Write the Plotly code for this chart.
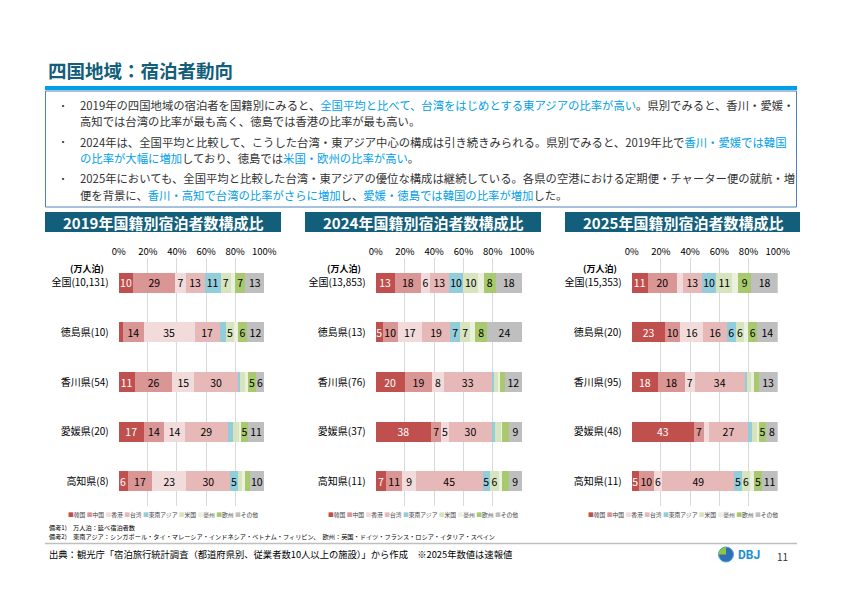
"""
Shikoku region: composition of foreign guest nights by nationality (2019 / 2024 / 2025).
"""
import plotly.graph_objects as go
from plotly.subplots import make_subplots

W, H = 842, 596
FONT = "Noto Sans CJK JP"

# --- data -------------------------------------------------------------------
categories = ["韓国", "中国", "香港", "台湾", "東南アジア", "米国", "豪州", "欧州", "その他"]
colors = ["#C0504D", "#D99694", "#F2DCDB", "#E6B9B8", "#92CDDC",
          "#D7E4BD", "#EBF1DE", "#A9C96E", "#BFBFBF"]

panel_titles = ["2019年国籍別宿泊者数構成比", "2024年国籍別宿泊者数構成比", "2025年国籍別宿泊者数構成比"]

regions_2019 = ["全国(10,131)", "徳島県(10)", "香川県(54)", "愛媛県(20)", "高知県(8)"]
regions_2024 = ["全国(13,853)", "徳島県(13)", "香川県(76)", "愛媛県(37)", "高知県(11)"]
regions_2025 = ["全国(15,353)", "徳島県(20)", "香川県(95)", "愛媛県(48)", "高知県(11)"]

# shares (%) per region, in the order of `categories`
share_2019 = [
    [10, 29, 7, 13, 11, 7, 3, 7, 13],
    [3, 14, 35, 17, 4.6, 5, 3, 6, 12],
    [11, 26, 15, 30, 1.4, 3.6, 2.2, 5, 6],
    [17, 14, 14, 29, 3.4, 4.3, 1.2, 5, 11],
    [6, 17, 23, 30, 5, 2.7, 2, 3.4, 10],
]
share_2024 = [
    [13, 18, 6, 13, 10, 10, 4, 8, 18],
    [5, 10, 17, 19, 7, 7, 3.4, 8, 24],
    [20, 19, 8, 33, 1.4, 2.7, 1.4, 3.4, 12],
    [38, 7, 5, 30, 2, 4, 0.7, 4.6, 9],
    [7, 11, 9, 45, 5, 6, 2, 4.5, 9],
]
share_2025 = [
    [11, 20, 4, 13, 10, 11, 4, 9, 18],
    [23, 10, 16, 16, 6, 6, 2.7, 6, 14],
    [18, 18, 7, 34, 1.4, 2.7, 2, 3.4, 13],
    [43, 7, 3.4, 27, 2.7, 3.4, 1.4, 5, 8],
    [5, 10, 6, 49, 5, 6, 2.7, 5, 11],
]

BLUE = "#00A0E9"
TEAL = "#135E7A"


def px(x):
    return x / W


def py(y):
    return 1 - y / H


def hl(s):
    return f"<span style='color:{BLUE}'>{s}</span>"


def note(x, y, text, size, color="#000000", anchor="left", bold=False, family=None):
    font = dict(size=size, color=color)
    if family:
        font["family"] = family
    return dict(xref="paper", yref="paper", x=px(x), y=py(y), text=f"<b>{text}</b>" if bold else text,
                showarrow=False, xanchor=anchor, yanchor="middle", font=font)


fig = make_subplots(rows=1, cols=3)

panels = [(regions_2019, share_2019), (regions_2024, share_2024), (regions_2025, share_2025)]
plot_x = [(118.7, 264.3), (375.7, 522.0), (631.7, 777.7)]
head_x = [(45, 281), (305, 541), (565, 800)]

for col, (regions, shares) in enumerate(panels, start=1):
    for i, cat in enumerate(categories):
        vals = [row[i] for row in shares]
        fig.add_trace(
            go.Bar(
                y=regions, x=vals, orientation="h", name=cat,
                marker=dict(color=colors[i], line=dict(width=0)),
                text=[f"{v:.0f}" if v >= 5 else "" for v in vals],
                textposition="inside", insidetextanchor="middle", textangle=0,
                textfont=dict(size=10.5, color="white" if i == 0 else "black", family=FONT),
                showlegend=False, hoverinfo="skip",
            ),
            row=1, col=col,
        )

fig.update_layout(
    width=W, height=H, autosize=False,
    margin=dict(l=0, r=0, t=0, b=0, pad=0, autoexpand=False),
    paper_bgcolor="white", plot_bgcolor="white",
    barmode="stack", barnorm="percent", bargap=0.6,
    uniformtext=dict(minsize=10.5, mode="show"),
    font=dict(family=FONT, color="#000000"),
)

for k in range(3):
    sx = "" if k == 0 else str(k + 1)
    x0, x1 = plot_x[k]
    fig.update_layout(**{
        f"xaxis{sx}": dict(
            domain=[px(x0), px(x1)], range=[0, 100], side="top", dtick=20,
            ticksuffix="%", showgrid=True, gridcolor="#D9D9D9", gridwidth=1,
            zeroline=False, showline=False, ticks="", tickfont=dict(size=9.5),
            fixedrange=True, automargin=False,
        ),
        f"yaxis{sx}": dict(
            domain=[py(506), py(258)], autorange="reversed", showgrid=False,
            ticks="", tickfont=dict(size=10), ticklabelstandoff=9, fixedrange=True,
            automargin=False,
        ),
    })

shapes = []
ann = []

# page title + rule
ann.append(note(46, 70, "四国地域：宿泊者動向", 18.5, TEAL, bold=True))
shapes.append(dict(type="rect", xref="paper", yref="paper", x0=px(45), x1=px(797),
                   y0=py(90), y1=py(86), fillcolor=BLUE, line=dict(width=0)))
shapes.append(dict(type="rect", xref="paper", yref="paper", x0=px(45.5), x1=px(796.5),
                   y0=py(207), y1=py(91), line=dict(color="#4F81BD", width=1)))

# summary text
lines = [
    (105, True, "2019年の四国地域の宿泊者を国籍別にみると、"
     + hl("全国平均と比べて、台湾をはじめとする東アジアの比率が高い") + "。県別でみると、香川・愛媛・"),
    (121, False, "高知では台湾の比率が最も高く、徳島では香港の比率が最も高い。"),
    (141.5, True, "2024年は、全国平均と比較して、こうした台湾・東アジア中心の構成は引き続きみられる。県別でみると、2019年比で"
     + hl("香川・愛媛では韓国")),
    (157.5, False, hl("の比率が大幅に増加") + "しており、徳島では" + hl("米国・欧州の比率が高い") + "。"),
    (178.5, True, "2025年においても、全国平均と比較した台湾・東アジアの優位な構成は継続している。各県の空港における定期便・チャーター便の就航・増"),
    (195.5, False, "便を背景に、" + hl("香川・高知で台湾の比率がさらに増加") + "し、"
     + hl("愛媛・徳島では韓国の比率が増加") + "した。"),
]
for y, bullet, txt in lines:
    if bullet:
        ann.append(note(62.5, y, "・", 10, "#333333", anchor="center"))
    ann.append(note(78, y, txt, 11.35, "#333333"))

# panel headers, unit labels and legends
legend_txt = "&nbsp;".join(f"<span style='color:{c}'>■</span>{n}" for c, n in zip(colors, categories))
for k in range(3):
    hx0, hx1 = head_x[k]
    shapes.append(dict(type="rect", xref="paper", yref="paper", x0=px(hx0), x1=px(hx1),
                       y0=py(232), y1=py(212), fillcolor=TEAL, line=dict(width=0)))
    ann.append(note((hx0 + hx1) / 2, 222, panel_titles[k], 15, "white", anchor="center", bold=True))
    ann.append(note(plot_x[k][0] - 32, 268.5, "(万人泊)", 9, anchor="center", bold=True))
    ann.append(note((hx0 + hx1) / 2, 514.5, legend_txt, 5.8, "#404040", anchor="center"))

# notes and source
ann.append(note(47, 527.5, "備考1)　万人泊：延べ宿泊者数", 6.2))
ann.append(note(47, 536, "備考2)　東南アジア：シンガポール・タイ・マレーシア・インドネシア・ベトナム・フィリピン、　"
                "欧州：英国・ドイツ・フランス・ロシア・イタリア・スペイン", 6.2))
shapes.append(dict(type="line", xref="paper", yref="paper", x0=px(45), x1=px(797),
                   y0=py(543.5), y1=py(543.5), line=dict(color="#BFBFBF", width=1.5)))
ann.append(note(47, 554, "出典：観光庁「宿泊旅行統計調査（都道府県別、従業者数10人以上の施設）」から作成　※2025年数値は速報値", 9.3))

# logo and page number
shapes.append(dict(type="circle", xref="paper", yref="paper", x0=px(718.5), x1=px(733.5),
                   y0=py(562), y1=py(547), fillcolor="#2F6FB5", line=dict(color="#4FA3DC", width=1)))
shapes.append(dict(type="path", xref="paper", yref="paper",
                   path=f"M {px(726)},{py(554.5)} L {px(718.5)},{py(554.5)} "
                        f"Q {px(718.8)},{py(548.5)} {px(726)},{py(547)} Z",
                   fillcolor="#8DC63F", line=dict(width=0)))
ann.append(note(736, 555, "DBJ", 12, "#1E8FD0", bold=True, family="Roboto"))
ann.append(note(782, 556, "11", 10, "#333333", anchor="center"))

fig.update_layout(shapes=shapes, annotations=ann)

# fixed-size page: no body margin, no responsive resizing, no mode bar
fig.write_html(
    "out.html",
    config={"responsive": False, "displayModeBar": False},
    post_script="document.body.style.margin='0';document.body.style.overflow='hidden';",
)
